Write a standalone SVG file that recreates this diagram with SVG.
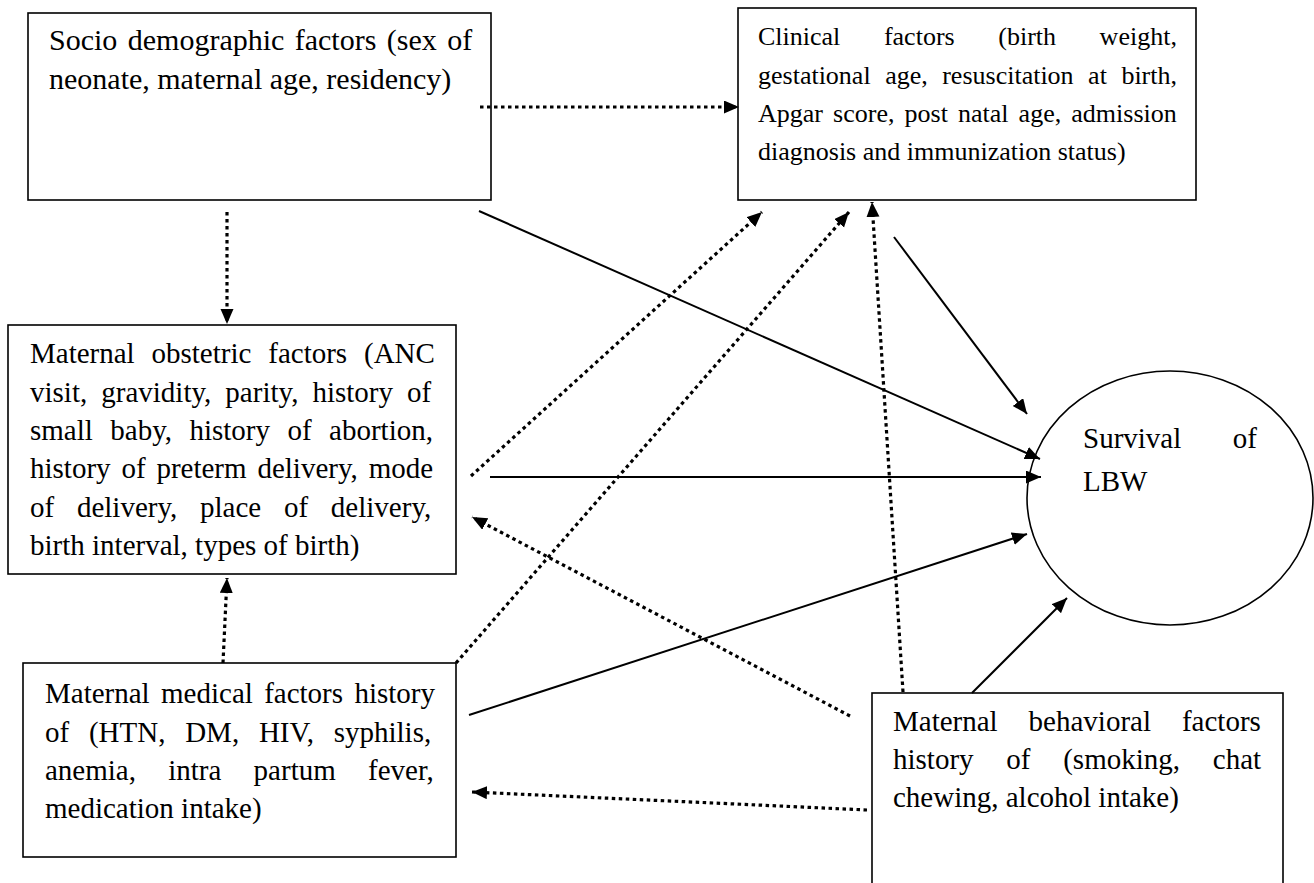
<svg xmlns="http://www.w3.org/2000/svg" width="1314" height="883" viewBox="0 0 1314 883">
<style>
.box{fill:#fff;stroke:#000;stroke-width:1.6}
.t{font-family:"Liberation Serif","Times New Roman",serif;font-size:29px;fill:#000}
.t1{font-family:"Liberation Serif","Times New Roman",serif;font-size:30px;fill:#000}
.t2{font-family:"Liberation Serif","Times New Roman",serif;font-size:26px;fill:#000}
.solid{fill:none;stroke:#000;stroke-width:2}
.dot{fill:none;stroke:#000;stroke-width:3.2;stroke-dasharray:3.5 3.5}
</style>
<defs>
<marker id="ah" markerUnits="userSpaceOnUse" markerWidth="16" markerHeight="14" refX="15" refY="6.5" orient="auto">
<path d="M0,0 L15,6.5 L0,13 z" fill="#000"/>
</marker>
</defs>
<rect width="1314" height="883" fill="#fff"/>
<g id="socio">
<rect class="box" x="28" y="13" width="463" height="187"/>
<text class="t1" x="49" y="50" word-spacing="2.9">Socio demographic factors (sex of</text>
<text class="t1" x="49" y="89">neonate, maternal age, residency)</text>
</g>
<g id="clinical">
<rect class="box" x="738" y="8" width="458" height="192"/>
<text class="t2" x="758" y="45" word-spacing="37.1">Clinical factors (birth weight,</text>
<text class="t2" x="758" y="84" word-spacing="8">gestational age, resuscitation at birth,</text>
<text class="t2" x="758" y="122" word-spacing="3.6">Apgar score, post natal age, admission</text>
<text class="t2" x="758" y="160">diagnosis and immunization status)</text>
</g>
<g id="obstetric">
<rect class="box" x="8" y="325" width="448" height="249"/>
<text class="t" x="30" y="363" word-spacing="9.6">Maternal obstetric factors (ANC</text>
<text class="t" x="30" y="402" word-spacing="6.8">visit, gravidity, parity, history of</text>
<text class="t" x="30" y="440" word-spacing="10.2">small baby, history of abortion,</text>
<text class="t" x="30" y="478" word-spacing="3.6">history of preterm delivery, mode</text>
<text class="t" x="30" y="517" word-spacing="15.5">of delivery, place of delivery,</text>
<text class="t" x="30" y="555">birth interval, types of birth)</text>
</g>
<g id="medical">
<rect class="box" x="23" y="663" width="433" height="194"/>
<text class="t" x="45" y="703" word-spacing="4.1">Maternal medical factors history</text>
<text class="t" x="45" y="742" word-spacing="12.5">of (HTN, DM, HIV, syphilis,</text>
<text class="t" x="45" y="780" word-spacing="25">anemia, intra partum fever,</text>
<text class="t" x="45" y="818">medication intake)</text>
</g>
<g id="behavioral">
<rect class="box" x="872" y="693" width="411" height="200"/>
<text class="t" x="893" y="731" word-spacing="23.7">Maternal behavioral factors</text>
<text class="t" x="893" y="769" word-spacing="25.5">history of (smoking, chat</text>
<text class="t" x="893" y="807">chewing, alcohol intake)</text>
</g>
<g id="survival">
<ellipse class="box" cx="1170" cy="498" rx="143" ry="127"/>
<text class="t" x="1083" y="448" word-spacing="44.3">Survival of</text>
<text class="t" x="1083" y="491">LBW</text>
</g>
<g id="connectors">
<line class="dot" x1="480" y1="107" x2="739" y2="107" marker-end="url(#ah)"/>
<line class="dot" x1="227" y1="212" x2="227" y2="324" marker-end="url(#ah)"/>
<line class="solid" x1="479" y1="211" x2="1040" y2="459" marker-end="url(#ah)"/>
<line class="dot" x1="471" y1="476" x2="762" y2="212" marker-end="url(#ah)"/>
<line class="dot" x1="456" y1="663" x2="849" y2="212" marker-end="url(#ah)"/>
<line class="dot" x1="903" y1="692" x2="872" y2="202" marker-end="url(#ah)"/>
<line class="solid" x1="894" y1="237" x2="1027" y2="414" marker-end="url(#ah)"/>
<line class="solid" x1="490" y1="477" x2="1041" y2="477" marker-end="url(#ah)"/>
<line class="dot" x1="850" y1="716" x2="472" y2="517" marker-end="url(#ah)"/>
<line class="solid" x1="469" y1="715" x2="1027" y2="534" marker-end="url(#ah)"/>
<line class="solid" x1="972" y1="693" x2="1067" y2="598" marker-end="url(#ah)"/>
<line class="dot" x1="867" y1="810" x2="472" y2="792" marker-end="url(#ah)"/>
<line class="dot" x1="223" y1="663" x2="227" y2="578" marker-end="url(#ah)"/>
</g>
</svg>
